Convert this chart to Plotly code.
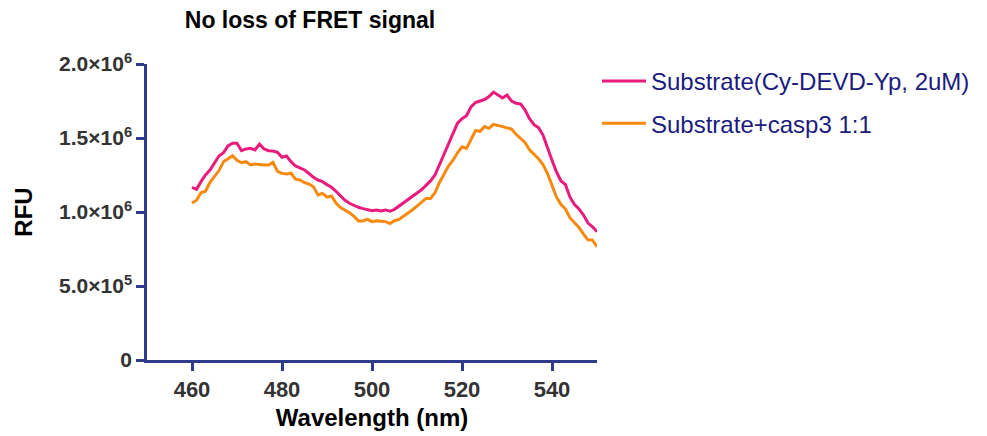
import plotly.graph_objects as go

wavelength = list(range(460, 551))

substrate = [
    1.167, 1.153, 1.205, 1.250, 1.284, 1.329, 1.378, 1.401, 1.446, 1.464,
    1.464, 1.414, 1.426, 1.430, 1.419, 1.459, 1.426, 1.414, 1.412, 1.403,
    1.370, 1.378, 1.340, 1.311, 1.300, 1.284, 1.260, 1.234, 1.216, 1.205,
    1.185, 1.167, 1.140, 1.110, 1.079, 1.059, 1.045, 1.032, 1.023, 1.018,
    1.008, 1.014, 1.007, 1.014, 1.005, 1.018, 1.041, 1.059, 1.081, 1.108,
    1.131, 1.150, 1.180, 1.210, 1.250, 1.320, 1.380, 1.460, 1.520, 1.600,
    1.630, 1.650, 1.710, 1.740, 1.750, 1.760, 1.780, 1.810, 1.790, 1.770,
    1.790, 1.750, 1.735, 1.730, 1.690, 1.630, 1.590, 1.570, 1.520, 1.430,
    1.350, 1.270, 1.210, 1.185, 1.100, 1.050, 1.020, 0.980, 0.925, 0.900,
    0.867,
]

substrate_casp3 = [
    1.060, 1.080, 1.130, 1.140, 1.200, 1.240, 1.280, 1.340, 1.360, 1.380,
    1.350, 1.333, 1.340, 1.318, 1.324, 1.320, 1.318, 1.318, 1.336, 1.275,
    1.261, 1.257, 1.262, 1.222, 1.216, 1.198, 1.189, 1.170, 1.115, 1.126,
    1.100, 1.108, 1.060, 1.030, 1.014, 0.995, 0.970, 0.940, 0.940, 0.950,
    0.935, 0.940, 0.938, 0.935, 0.922, 0.941, 0.950, 0.970, 0.995, 1.015,
    1.040, 1.065, 1.092, 1.092, 1.130, 1.200, 1.260, 1.310, 1.350, 1.400,
    1.440, 1.430, 1.490, 1.550, 1.545, 1.577, 1.565, 1.592, 1.585, 1.578,
    1.570, 1.560, 1.525, 1.500, 1.470, 1.420, 1.390, 1.360, 1.320, 1.260,
    1.180, 1.100, 1.050, 1.020, 0.960, 0.925, 0.895, 0.850, 0.812, 0.810,
    0.766,
]

scale = 1e6
series_names = ["Substrate(Cy-DEVD-Yp, 2uM)", "Substrate+casp3 1:1"]
series_colors = ["#E91C7D", "#F7890F"]

x_tickvals = [460, 480, 500, 520, 540]
y_tickvals = [0, 5e5, 1e6, 1.5e6, 2e6]
y_ticktext = ["0", "5.0×10<sup>5</sup>", "1.0×10<sup>6</sup>",
              "1.5×10<sup>6</sup>", "2.0×10<sup>6</sup>"]

axis_color = "#2F3A8A"
font_family = "Liberation Sans, Arial, sans-serif"

fig = go.Figure()
for i, (name, vals) in enumerate(zip(series_names, [substrate, substrate_casp3])):
    fig.add_trace(go.Scatter(
        x=wavelength, y=[v * scale for v in vals], mode="lines", name=name,
        legendgroup=f"g{i}",
        line=dict(color=series_colors[i], width=3),
    ))

fig.update_layout(
    width=987, height=436,
    margin=dict(l=147, r=390, t=64, b=76, autoexpand=False),
    paper_bgcolor="white", plot_bgcolor="white",
    font=dict(family=font_family),
    title=dict(text="No loss of FRET signal", x=310 / 987,
               xanchor="center", y=1 - 20 / 436, yanchor="middle",
               xref="container",
               font=dict(size=23, color="black", weight="bold")),
    showlegend=True,
    legend=dict(x=1.0, xanchor="left", y=1.017, yanchor="top",
                traceorder="grouped", tracegroupgap=8, itemwidth=44,
                font=dict(size=24, color="#1B1B7E"),
                bgcolor="rgba(0,0,0,0)"),
    xaxis=dict(range=[450, 550], tickvals=x_tickvals, automargin=False,
               showline=True, linecolor=axis_color, linewidth=2.5,
               ticks="outside", ticklen=8, tickwidth=2.5, tickcolor=axis_color,
               showgrid=False, zeroline=False,
               tickfont=dict(size=22, color="#333333", weight="bold"),
               title=dict(text="Wavelength (nm)", standoff=9,
                          font=dict(size=24, color="black", weight="bold"))),
    yaxis=dict(range=[0, 2e6], tickvals=y_tickvals, ticktext=y_ticktext,
               automargin=False,
               showline=True, linecolor=axis_color, linewidth=2.5,
               ticks="outside", ticklen=8, tickwidth=2.5, tickcolor=axis_color,
               showgrid=False, zeroline=False,
               tickfont=dict(size=21, color="#333333", weight="bold"),
               title=dict(text="RFU", standoff=20,
                          font=dict(size=24, color="black", weight="bold"))),
)

fig.write_html("out.html")
